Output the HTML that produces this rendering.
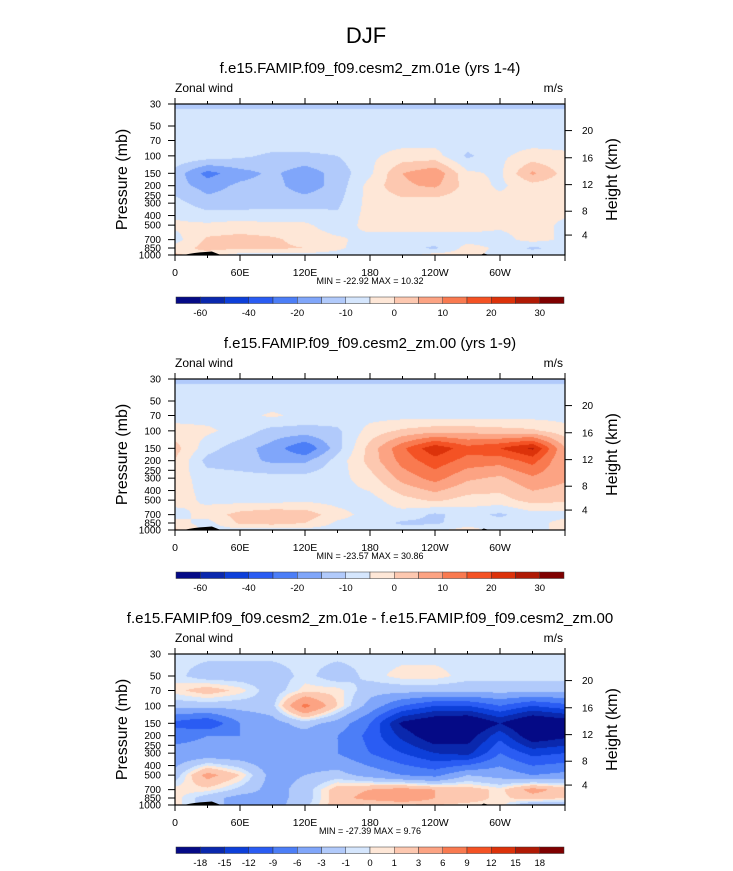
<!DOCTYPE html>
<html><head><meta charset="utf-8"><style>
body{margin:0;background:#fff;width:733px;height:871px;overflow:hidden;position:relative;font-family:"Liberation Sans",sans-serif}
canvas{position:absolute}
svg{position:absolute;left:0;top:0}
</style></head><body>
<canvas id="c0" width="390" height="151" style="left:175px;top:104px"></canvas>
<canvas id="c1" width="390" height="151" style="left:175px;top:379px"></canvas>
<canvas id="c2" width="390" height="151" style="left:175px;top:654px"></canvas>
<svg id="s" width="733" height="871"></svg>
<script>
const lons=[0,30,60,90,120,150,180,210,240,270,300,330,360];
const levs=[30,50,70,100,150,200,300,500,700,850,1000];
const field01e=[
[-10.6,-10.6,-10.6,-10.6,-10.6,-10.6,-10.6,-10.6,-10.6,-10.6,-10.6,-10.6,-10.6],
[-8,-8,-8,-8,-8,-8,-8,-8,-8,-8,-8,-8,-8],
[-7,-7,-7,-7,-7,-7,-7,-7,-7,-7,-7,-7,-7],
[-6,-7,-9,-11,-11,-10,-6,-3,-3,-11,-6,-3,-4],
[-12,-22,-17,-14,-18,-13,-6,5,9,-4,-6,6,-2],
[-13,-17,-14,-13,-18,-13,-3,4,6,-2,-6,-2,-3],
[-8,-13,-13,-12,-12,-11,-3,-2,-3,-3,-3,-3,-3],
[-4,-4,-3,-4,-4,-8,-3,-3,-3,-3,-4,-3,-6],
[-7,1,2,1,-2,-4,-7,-7,-7,-7,-7,-3,-6],
[-3,2,1,1,0,-4,-8,-8,-11,-3,-6,-11,-8],
[1,-3,-7,-7,-7,-7,-7,-7,-3,-3,-7,-7,-7]];
const field00=[
[-10.6,-10.6,-10.6,-10.6,-10.6,-10.6,-10.6,-10.6,-10.6,-10.6,-10.6,-10.6,-10.6],
[-8,-8,-8,-8,-8,-8,-8,-8,-8,-8,-8,-8,-8],
[-7,-7,-7,-4,-7,-7,-7,-7,-7,-7,-7,-7,-7],
[-3,-4,-7,-12,-12,-11,-3,1,3,3,2,1,-3],
[2,-8,-13,-17,-25,-12,2,14,24,17,20,26,5],
[0,-12,-13,-16,-16,-8,2,12,18,13,12,17,5],
[-3,-7,-8,-8,-8,-7,-2,7,12,6,4,9,6],
[-3,-6,-7,-7,-6,-7,-7,-2,1,-2,-2,2,1],
[-7,-3,2,4,3,-3,-7,-7,-11,-8,-11,-7,-7],
[-3,-7,1,2,0,-6,-7,-11,-11,-7,-8,-7,-3],
[1,-7,-7,-7,-7,-7,-7,-7,-6,-3,-7,-7,-3]];
const fieldDiff=[
[-0.5,-0.5,-0.5,-0.5,-0.5,-0.5,-0.5,-0.5,-0.5,-0.5,-0.5,-0.5,-0.5],
[-0.5,-2,-2,-2,-0.5,-2,-0.5,0.5,0.5,-0.5,-0.5,-0.5,-0.5],
[0.5,2,0.5,-2,0.5,0.5,-2,-2,-2,-2,-2,-2,-2],
[-2,-2,-2,-1.5,7,1,-4,-9,-12,-12,-9,-12,-10],
[-10,-12,-6,-4,-2,-4,-9,-19,-22,-23,-18,-23,-21],
[-7,-6,-6,-4,-4,-6,-10,-16,-21,-20,-13,-21,-19],
[-5,-5,-5,-5,-5,-6,-9,-12,-15,-16,-9,-13,-12],
[-2,4,1,-4,-3,-2,-4,-6,-7,-3,-4,-6,-5],
[0.5,0.5,-1.5,-4,-2,2,3,4,3,2,0.5,4,2],
[0.5,-2,-4,-4,-2,2,4,6,3,2,0.5,2,1],
[0.5,-2,-4,-4,-1.5,2,0.5,0.5,1,0.5,0.5,-3,-3]];
const windLevels=[-60,-50,-40,-30,-20,-15,-10,-5,0,5,10,15,20,25,30];
const windLabels=["-60","","-40","","-20","","-10","","0","","10","","20","","30"];
const diffLevels=[-18,-15,-12,-9,-6,-3,-1,0,1,3,6,9,12,15,18];
const diffLabels=diffLevels.map(String);
const pal=["#050a86","#0a28ad","#0d3fd9","#2a5cf3","#4c7ef7","#80a6fa","#b1cafb","#d5e6fd","#fee7d7","#fdc8b0","#fca383","#f97a50","#f45224","#dc320a","#b01a05","#7f0000"];
const titles=["f.e15.FAMIP.f09_f09.cesm2_zm.01e (yrs 1-4)","f.e15.FAMIP.f09_f09.cesm2_zm.00 (yrs 1-9)","f.e15.FAMIP.f09_f09.cesm2_zm.01e - f.e15.FAMIP.f09_f09.cesm2_zm.00"];
const minmax=["MIN = -22.92  MAX = 10.32","MIN = -23.57  MAX = 30.86","MIN = -27.39  MAX =  9.76"];
const pTicks=[30,50,70,100,150,200,250,300,400,500,700,850,1000];
const kmTicks=[4,8,12,16,20];
const kmFrac=[0.868,0.71,0.534,0.356,0.176];
const xTickLabels=["0","60E","120E","180","120W","60W"];
const X0=175,W=390,H=151,TOPS=[104,379,654];
const fy=p=>Math.log(p/30)/Math.log(1000/30);
const xs=l=>X0+l/360*W;
const NS="http://www.w3.org/2000/svg";
const svg=document.getElementById('s');
function el(t,a,txt){const e=document.createElementNS(NS,t);for(const k in a)e.setAttribute(k,a[k]);if(txt!==undefined)e.textContent=txt;svg.appendChild(e);return e;}
function lvlIdx(v,L){let i=0;while(i<L.length&&v>=L[i])i++;return i;}
const levF=levs.map(fy);
function sample(F,lx,f){
  let j=Math.min(Math.floor(lx/30),11);const tx=(lx-lons[j])/30;
  let i=0;while(i<levF.length-2&&f>levF[i+1])i++;
  const ty=Math.max(0,Math.min(1,(f-levF[i])/(levF[i+1]-levF[i])));
  const a=F[i][j]*(1-tx)+F[i][j+1]*tx,b=F[i+1][j]*(1-tx)+F[i+1][j+1]*tx;
  return a*(1-ty)+b*ty;
}
const fields=[field01e,field00,fieldDiff];
const rgb=pal.map(h=>[parseInt(h.substr(1,2),16),parseInt(h.substr(3,2),16),parseInt(h.substr(5,2),16)]);
fields.forEach((F,k)=>{
  const L=k<2?windLevels:diffLevels;
  const c=document.getElementById('c'+k).getContext('2d');
  const img=c.createImageData(W,H);
  for(let y=0;y<H;y++)for(let x=0;x<W;x++){
    const v=sample(F,(x+0.5)/W*360,(y+0.5)/H);const col=rgb[lvlIdx(v,L)];
    const o=(y*W+x)*4;img.data[o]=col[0];img.data[o+1]=col[1];img.data[o+2]=col[2];img.data[o+3]=255;
  }
  c.putImageData(img,0,0);
});
let t=el('text',{x:366,y:43,'font-size':22,'text-anchor':'middle'},'DJF');


TOPS.forEach((T,k)=>{
  const B=T+H;
  let e=el('text',{x:370,y:T-31,'font-size':15,'text-anchor':'middle'},titles[k]);
  
  
  e=el('text',{x:175,y:T-12,'font-size':12},'Zonal wind');
  
  
  e=el('text',{x:563,y:T-12,'font-size':12,'text-anchor':'end'},'m/s');
  
  
  e=el('path',{d:`M${xs(8)},${B} Q${xs(18)},${B-2.5} ${xs(28)},${B-3} L${xs(34)},${B-3.5} Q${xs(40)},${B-1} ${xs(42)},${B} Z M${xs(282)},${B} L${xs(285)},${B-1.5} L${xs(290)},${B} Z`,fill:'#000'});
  
  
  e=el('rect',{x:X0,y:T,width:W,height:H,fill:'none',stroke:'#000','stroke-width':1.2});
  
  
  for(let l=0;l<=360;l+=30){
    const maj=l%60==0,len=maj?6:3;
    el('line',{x1:xs(l),x2:xs(l),y1:B,y2:B+len,stroke:'#000'});
    el('line',{x1:xs(l),x2:xs(l),y1:T,y2:T-len,stroke:'#000'});
    if(maj&&l<360){e=el('text',{x:xs(l),y:B+21,'font-size':10.5,'text-anchor':'middle'},xTickLabels[l/60]);
      
      }
  }
  pTicks.forEach(p=>{const y=T+fy(p)*H;el('line',{x1:X0-7,x2:X0,y1:y,y2:y,stroke:'#000'});
    e=el('text',{x:X0-14,y:y+3.5,'font-size':10,'text-anchor':'end'},String(p));
    
    });
  kmTicks.forEach((km,i)=>{const y=T+kmFrac[i]*H;el('line',{x1:X0+W,x2:X0+W+7,y1:y,y2:y,stroke:'#000'});
    e=el('text',{x:X0+W+17,y:y+3.5,'font-size':10},String(km));
    
    });
  e=el('text',{x:0,y:0,'font-size':16,'text-anchor':'middle',transform:`translate(127,${T+H/2}) rotate(-90)`},'Pressure (mb)');
  
  
  e=el('text',{x:0,y:0,'font-size':16,'text-anchor':'middle',transform:`translate(617,${T+H/2}) rotate(-90)`},'Height (km)');
  
  
  e=el('text',{x:370,y:B+29,'font-size':9,'text-anchor':'middle'},minmax[k]);
  
  
  const cy=B+42,cw=388/16,labs=k<2?windLabels:diffLabels;
  for(let i=0;i<16;i++){e=el('rect',{x:176+i*cw,y:cy,width:cw,height:6.5,fill:pal[i],stroke:'#333','stroke-width':0.5});
    
    }
  labs.forEach((s,i)=>{if(!s)return;e=el('text',{x:176+(i+1)*cw,y:cy+19,'font-size':9.5,'text-anchor':'middle'},s);
    
    });
});
</script>
</body></html>
